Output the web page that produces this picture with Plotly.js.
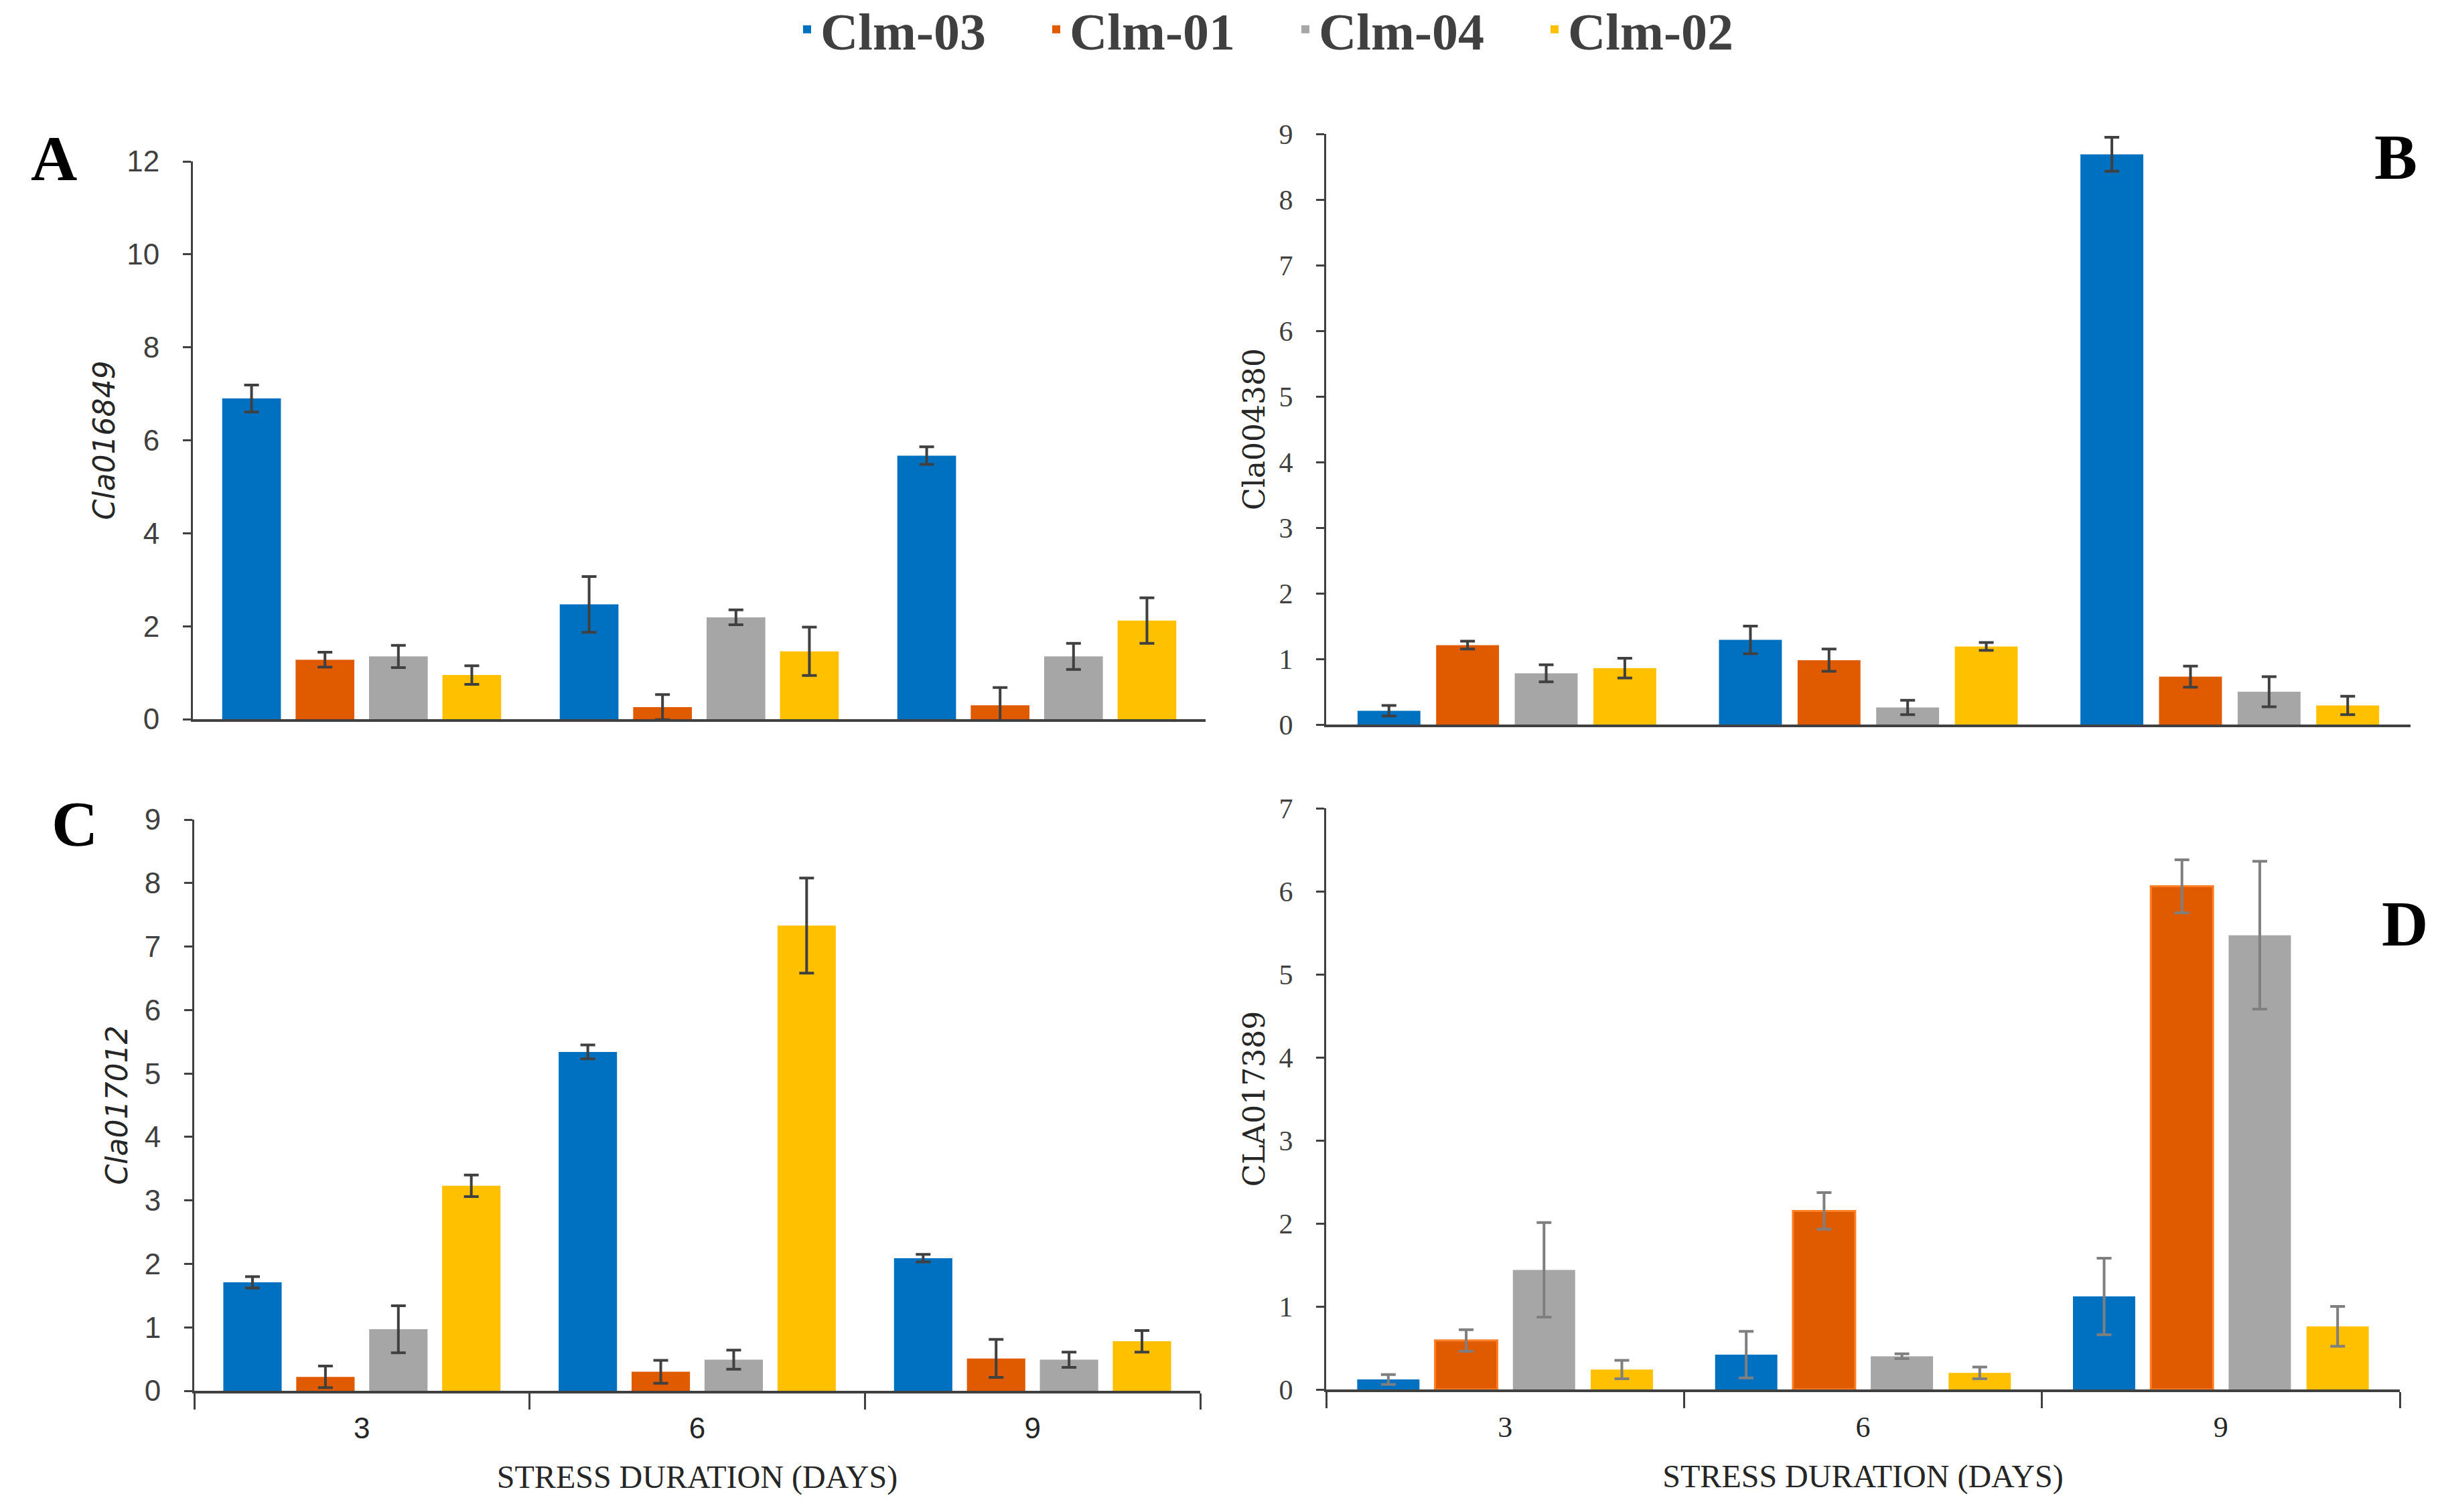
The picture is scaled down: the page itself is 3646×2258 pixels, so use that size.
<!DOCTYPE html>
<html>
<head>
<meta charset="utf-8">
<script src="https://cdn.plot.ly/plotly-3.0.1.min.js"></script>
<style>html,body{margin:0;padding:0;background:#fff;}#chart{width:3646px;height:2258px;}</style>
</head>
<body>
<div id="chart"></div>
<script>
// ---- data ----
const days = ["3", "6", "9"];
const lines = ["Clm-03", "Clm-01", "Clm-04", "Clm-02"];
const colors = ["#0070C0", "#E05A00", "#A6A6A6", "#FFC000"];

// Panel A: Cla016849
const A_clm03 = [6.90, 2.47, 5.67];
const A_clm01 = [1.28, 0.26, 0.30];
const A_clm04 = [1.35, 2.19, 1.35];
const A_clm02 = [0.95, 1.46, 2.12];
const A_err03 = [0.29, 0.60, 0.19];
const A_err01 = [0.16, 0.27, 0.38];
const A_err04 = [0.24, 0.16, 0.28];
const A_err02 = [0.20, 0.52, 0.49];

// Panel B: Cla004380
const B_clm03 = [0.21, 1.29, 8.69];
const B_clm01 = [1.21, 0.98, 0.73];
const B_clm04 = [0.78, 0.26, 0.50];
const B_clm02 = [0.86, 1.19, 0.29];
const B_err03 = [0.08, 0.21, 0.26];
const B_err01 = [0.06, 0.17, 0.16];
const B_err04 = [0.13, 0.11, 0.23];
const B_err02 = [0.15, 0.06, 0.14];

// Panel C: Cla017012
const C_clm03 = [1.71, 5.34, 2.09];
const C_clm01 = [0.22, 0.30, 0.51];
const C_clm04 = [0.97, 0.49, 0.49];
const C_clm02 = [3.23, 7.33, 0.78];
const C_err03 = [0.09, 0.11, 0.06];
const C_err01 = [0.17, 0.18, 0.30];
const C_err04 = [0.37, 0.15, 0.12];
const C_err02 = [0.17, 0.75, 0.17];

// Panel D: CLA017389
const D_clm03 = [0.12, 0.42, 1.12];
const D_clm01 = [0.59, 2.15, 6.06];
const D_clm04 = [1.44, 0.40, 5.47];
const D_clm02 = [0.24, 0.20, 0.76];
const D_err03 = [0.06, 0.28, 0.46];
const D_err01 = [0.13, 0.22, 0.32];
const D_err04 = [0.57, 0.03, 0.89];
const D_err02 = [0.11, 0.07, 0.24];

const panels = [
  {vals: [A_clm03, A_clm01, A_clm04, A_clm02], errs: [A_err03, A_err01, A_err04, A_err02], xa: "x", ya: "y", ec: "#404040"},
  {vals: [B_clm03, B_clm01, B_clm04, B_clm02], errs: [B_err03, B_err01, B_err04, B_err02], xa: "x2", ya: "y2", ec: "#404040"},
  {vals: [C_clm03, C_clm01, C_clm04, C_clm02], errs: [C_err03, C_err01, C_err04, C_err02], xa: "x3", ya: "y3", ec: "#404040"},
  {vals: [D_clm03, D_clm01, D_clm04, D_clm02], errs: [D_err03, D_err01, D_err04, D_err02], xa: "x4", ya: "y4", ec: "#7F7F7F"}
];

const traces = [];
panels.forEach((p, pi) => {
  lines.forEach((name, si) => {
    const lineCol = (pi === 3 && si === 1) ? "#FF7F27" : colors[si];
    traces.push({
      type: "bar",
      name: name,
      x: days,
      y: p.vals[si],
      xaxis: p.xa,
      yaxis: p.ya,
      legendgroup: name,
      showlegend: pi === 0,
      marker: {color: colors[si], line: {color: lineCol, width: (pi === 3 && si === 1) ? 3 : 0}},
      error_y: {type: "data", array: p.errs[si], visible: true, color: p.ec, thickness: 4, width: 11}
    });
  });
});

const W = 3646, H = 2258;
const fx = px => px / W;
const fy = py => 1 - py / H;

const sansNarrow = "Liberation Sans Narrow, Arial Narrow, Liberation Sans, sans-serif";
const serif = "Liberation Serif, Times New Roman, serif";

function yax(domain, range, dtick, tickFont, title, titleFont, standoff) {
  return {
    domain: domain, range: range, dtick: dtick, autorange: false,
    showline: true, linecolor: "#404040", linewidth: 3,
    ticks: "outside", ticklen: 12, tickwidth: 3, tickcolor: "#404040",
    showgrid: false, zeroline: false, automargin: false,
    tickfont: tickFont, ticklabelstandoff: 26,
    title: {text: title, font: titleFont, standoff: standoff}
  };
}
function xax(domain, anchor, labels, tickFont, title) {
  const o = {
    domain: domain, anchor: anchor, type: "category", range: [-0.5, 2.5],
    showline: true, linecolor: "#404040", linewidth: 4,
    showgrid: false, zeroline: false, automargin: false
  };
  if (labels) {
    o.ticks = "outside"; o.tickson = "boundaries"; o.ticklen = 24; o.tickwidth = 3; o.tickcolor = "#404040";
    o.tickfont = tickFont; o.ticklabelstandoff = 14;
    o.title = {text: title, font: {family: serif, size: 48, color: "#262626"}, standoff: 34};
  } else {
    o.ticks = ""; o.showticklabels = false;
  }
  return o;
}

const layout = {
  width: W, height: H,
  margin: {l: 0, r: 0, t: 0, b: 0, autoexpand: false},
  paper_bgcolor: "#ffffff", plot_bgcolor: "#ffffff",
  barmode: "group", bargap: 0.13, bargroupgap: 0.2,
  showlegend: true,
  legend: {
    orientation: "h", x: fx(1185), xanchor: "left", y: fy(44), yanchor: "middle",
    font: {family: serif, size: 78, color: "#404040", weight: "bold"},
    entrywidth: 327, entrywidthmode: "pixels", itemwidth: 30, traceorder: "normal"
  },
  xaxis: xax([fx(288), fx(1800)], "y", false),
  yaxis: yax([fy(1074), fy(241)], [0, 12], 2, {family: sansNarrow, size: 44, color: "#404040"},
             "Cla016849", {family: "DejaVu Sans", size: 44, color: "#262626", style: "italic"}, 4),
  xaxis2: xax([fx(1980), fx(3599)], "y2", false),
  yaxis2: Object.assign(yax([fy(1082), fy(200)], [0, 9], 1, {family: serif, size: 42, color: "#404040"},
             "Cla004380", {family: "DejaVu Serif", size: 44, color: "#262626"}, 8), {anchor: "x2"}),
  xaxis3: xax([fx(290), fx(1792)], "y3", true, {family: sansNarrow, size: 44, color: "#262626"}, "STRESS DURATION (DAYS)"),
  yaxis3: Object.assign(yax([fy(2077), fy(1224)], [0, 9], 1, {family: sansNarrow, size: 44, color: "#404040"},
             "Cla017012", {family: "DejaVu Sans", size: 44, color: "#262626", style: "italic"}, 12), {anchor: "x3"}),
  xaxis4: xax([fx(1980), fx(3583)], "y4", true, {family: serif, size: 44, color: "#262626"}, "STRESS DURATION (DAYS)"),
  yaxis4: Object.assign(yax([fy(2075), fy(1207)], [0, 7], 1, {family: serif, size: 42, color: "#404040"},
             "CLA017389", {family: "DejaVu Serif", size: 44, color: "#262626"}, 8), {anchor: "x4"}),
  annotations: [
    {text: "A", x: fx(80), y: fy(236)},
    {text: "B", x: fx(3577), y: fy(235)},
    {text: "C", x: fx(111), y: fy(1230)},
    {text: "D", x: fx(3590), y: fy(1379)}
  ].map(a => Object.assign(a, {xref: "paper", yref: "paper", xanchor: "center", yanchor: "middle", showarrow: false,
        font: {family: serif, size: 96, color: "#000000", weight: "bold"}}))
};
layout.yaxis.anchor = "x";

Plotly.newPlot("chart", traces, layout, {staticPlot: true, displayModeBar: false});
</script>
</body>
</html>
